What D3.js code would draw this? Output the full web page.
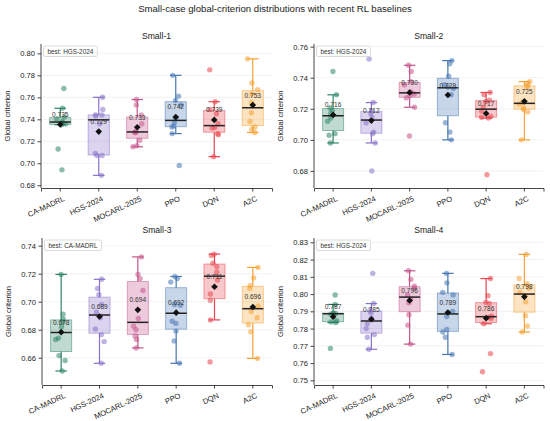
<!DOCTYPE html>
<html><head><meta charset="utf-8">
<script src="https://cdn.jsdelivr.net/npm/d3@7"></script>
<style>
body{margin:0;background:#fff;}
svg{font-family:"Liberation Sans",Arial,Helvetica,sans-serif;}
</style></head>
<body><svg id="chart" width="550" height="421"></svg>
<script>
const categories = ["CA-MADRL","HGS-2024","MOCARL-2025","PPO","DQN","A2C"];
const colors = ["#2e8567","#8672c8","#c4548a","#4776b4","#e8454f","#f5a233"];
const panelTitles = ["Small-1","Small-2","Small-3","Small-4"];
const bestLabels = ["HGS-2024","HGS-2024","CA-MADRL","HGS-2024"];
const yDomains = [[0.6775,0.8085],[0.669,0.7617],[0.6405,0.7455],[0.7473,0.8325]];
const yTicks = [
  [0.68,0.70,0.72,0.74,0.76,0.78,0.80],
  [0.68,0.70,0.72,0.74,0.76],
  [0.66,0.68,0.70,0.72,0.74],
  [0.75,0.76,0.77,0.78,0.79,0.80,0.81,0.82,0.83]
];
const small1 = [
  [0.694,0.713,0.735,0.736,0.737,0.738,0.740,0.742,0.750,0.768],
  [0.689,0.707,0.707,0.709,0.736,0.743,0.744,0.744,0.749,0.760],
  [0.715,0.716,0.721,0.728,0.728,0.729,0.736,0.744,0.753,0.758],
  [0.698,0.727,0.733,0.734,0.737,0.741,0.753,0.757,0.761,0.780],
  [0.706,0.726,0.727,0.732,0.7325,0.736,0.745,0.749,0.756,0.785],
  [0.728,0.731,0.733,0.738,0.746,0.755,0.763,0.767,0.773,0.795]
];
const small2 = [
  [0.698,0.703,0.704,0.712,0.714,0.717,0.719,0.7205,0.729,0.744],
  [0.680,0.698,0.704,0.705,0.711,0.7145,0.717,0.7186,0.724,0.752],
  [0.7025,0.721,0.727,0.7285,0.7295,0.731,0.7355,0.7375,0.744,0.748],
  [0.700,0.705,0.711,0.729,0.733,0.734,0.7355,0.741,0.749,0.751],
  [0.6775,0.714,0.7145,0.715,0.7185,0.721,0.7245,0.7255,0.729,0.7305],
  [0.700,0.718,0.7195,0.7205,0.723,0.724,0.734,0.735,0.7365,0.7375]
];
const small3 = [
  [0.6505,0.658,0.6615,0.673,0.674,0.682,0.6855,0.6875,0.691,0.7195],
  [0.656,0.6715,0.6765,0.6805,0.6885,0.6925,0.698,0.705,0.7095,0.716],
  [0.667,0.673,0.6755,0.680,0.6825,0.688,0.708,0.7165,0.7195,0.732],
  [0.656,0.672,0.679,0.6845,0.686,0.6975,0.698,0.714,0.7165,0.718],
  [0.657,0.687,0.701,0.7055,0.7155,0.721,0.725,0.7275,0.733,0.734],
  [0.6595,0.6785,0.6835,0.6885,0.693,0.697,0.7095,0.7115,0.717,0.7245]
];
const small4 = [
  [0.7685,0.7835,0.7838,0.7845,0.7884,0.7888,0.7888,0.789,0.794,0.7995],
  [0.768,0.775,0.7765,0.780,0.7828,0.786,0.789,0.7905,0.7945,0.812],
  [0.771,0.782,0.788,0.795,0.797,0.7995,0.8035,0.8045,0.8085,0.8135],
  [0.765,0.775,0.778,0.7795,0.787,0.790,0.7995,0.801,0.8065,0.812],
  [0.755,0.7655,0.7828,0.7858,0.7865,0.7873,0.7945,0.7952,0.799,0.809],
  [0.778,0.7815,0.7875,0.7955,0.799,0.801,0.8035,0.806,0.809,0.823]
];
const panelData = [small1, small2, small3, small4];

const svg = d3.select("#chart");
const panels = [
  {x0:41, x1:272, y0:44, y1:188},
  {x0:314, x1:543.5, y0:44, y1:188},
  {x0:42, x1:272, y0:238, y1:385},
  {x0:314, x1:543.5, y0:238, y1:385}
];

svg.append("text").attr("x",275).attr("y",12).attr("text-anchor","middle")
  .attr("font-size",9.6).attr("fill","#222")
  .text("Small-case global-criterion distributions with recent RL baselines");

// deterministic jitter
let seed = 12345;
function rnd(){ seed = (seed*1103515245 + 12345) % 2147483648; return seed/2147483648; }

const fmt = d3.format(".3f");

panels.forEach((p, pi) => {
  const g = svg.append("g");
  const x = d3.scaleBand().domain(categories).range([p.x0, p.x1]).paddingInner(0).paddingOuter(0);
  const y = d3.scaleLinear().domain(yDomains[pi]).range([p.y1, p.y0]);
  const bw = x.bandwidth();

  // grid
  g.selectAll(".grid").data(yTicks[pi]).enter().append("line")
    .attr("x1",p.x0).attr("x2",p.x1).attr("y1",d=>y(d)).attr("y2",d=>y(d))
    .attr("stroke","#ececec").attr("stroke-width",0.7);

  // title
  g.append("text").attr("x",(p.x0+p.x1)/2).attr("y",p.y0-5).attr("text-anchor","middle")
    .attr("font-size",8.6).attr("fill","#222").text(panelTitles[pi]);

  // y label
  g.append("text").attr("transform",`translate(${p.x0-31},${(p.y0+p.y1)/2}) rotate(-90)`)
    .attr("text-anchor","middle").attr("font-size",7.6).attr("fill","#222").text("Global criterion");

  categories.forEach((c, ci) => {
    const vals = panelData[pi][ci].slice().sort(d3.ascending);
    const col = colors[ci];
    const cx = x(c) + bw/2;
    const q1 = d3.quantile(vals,0.25), med = d3.quantile(vals,0.5), q3 = d3.quantile(vals,0.75);
    const iqr = q3-q1;
    const lo = d3.min(vals.filter(v=>v>=q1-1.5*iqr));
    const hi = d3.max(vals.filter(v=>v<=q3+1.5*iqr));
    const mean = d3.mean(vals);
    const boxW = bw*0.55, capW = bw*0.3;

    // whiskers
    g.append("line").attr("x1",cx).attr("x2",cx).attr("y1",y(q3)).attr("y2",y(hi))
      .attr("stroke",col).attr("stroke-width",1.2);
    g.append("line").attr("x1",cx).attr("x2",cx).attr("y1",y(q1)).attr("y2",y(lo))
      .attr("stroke",col).attr("stroke-width",1.2);
    [hi,lo].forEach(v=>g.append("line").attr("x1",cx-capW/2).attr("x2",cx+capW/2)
      .attr("y1",y(v)).attr("y2",y(v)).attr("stroke",col).attr("stroke-width",1.2));
    // box
    g.append("rect").attr("x",cx-boxW/2).attr("width",boxW).attr("y",y(q3)).attr("height",y(q1)-y(q3))
      .attr("fill",col).attr("fill-opacity",0.3).attr("stroke",col).attr("stroke-opacity",0.55).attr("stroke-width",0.9);
    // points
    vals.forEach(v=>{
      const jx = (rnd()-0.5)*2*5.5;
      g.append("circle").attr("cx",cx+jx).attr("cy",y(v)).attr("r",2.7)
        .attr("fill",col).attr("fill-opacity",0.55);
    });
    // median
    g.append("line").attr("x1",cx-boxW/2).attr("x2",cx+boxW/2).attr("y1",y(med)).attr("y2",y(med))
      .attr("stroke","#222").attr("stroke-width",1.5);
    // mean diamond
    g.append("path").attr("d",d3.symbol(d3.symbolSquare,22)())
      .attr("transform",`translate(${cx},${y(mean)}) rotate(45)`).attr("fill","#111");
    // mean label
    g.append("text").attr("x",cx).attr("y",y(mean)-7.5).attr("text-anchor","middle")
      .attr("font-size",6.6).attr("fill","#333").text(fmt(mean));
  });

  // axes
  const ya = d3.axisLeft(y).tickValues(yTicks[pi]).tickFormat(d3.format(".2f")).tickSize(3.5).tickPadding(2.5);
  const yg = g.append("g").attr("transform",`translate(${p.x0},0)`).call(ya);
  yg.select(".domain").attr("d",`M0,${p.y0}V${p.y1}`);
  const xa = d3.axisBottom(x).tickSize(3.5).tickPadding(2);
  const xg = g.append("g").attr("transform",`translate(0,${p.y1})`).call(xa);
  [yg,xg].forEach(a=>{
    a.selectAll(".domain").attr("stroke","#333").attr("stroke-width",0.9);
    a.selectAll(".tick line").attr("stroke","#333").attr("stroke-width",0.9);
    a.selectAll("text").attr("font-size",7.6).attr("fill","#222").attr("font-family",null);
  });
  xg.selectAll(".tick text").attr("text-anchor","end").attr("dy","0.5em")
    .attr("transform","translate(1,4) rotate(-25)");

  // best legend
  const lg = g.append("g").attr("transform",`translate(${p.x0+2.5},${p.y0+2})`);
  const lt = lg.append("text").attr("x",4).attr("y",7.6).attr("font-size",6.4).attr("fill","#333")
    .text("best: " + bestLabels[pi]);
  const w = lt.node().getComputedTextLength();
  lg.insert("rect","text").attr("x",0).attr("y",0).attr("width",w+8).attr("height",10.5)
    .attr("rx",1.5).attr("fill","#fff").attr("fill-opacity",0.85).attr("stroke","#ccc").attr("stroke-width",0.7);
});
</script></body></html>
